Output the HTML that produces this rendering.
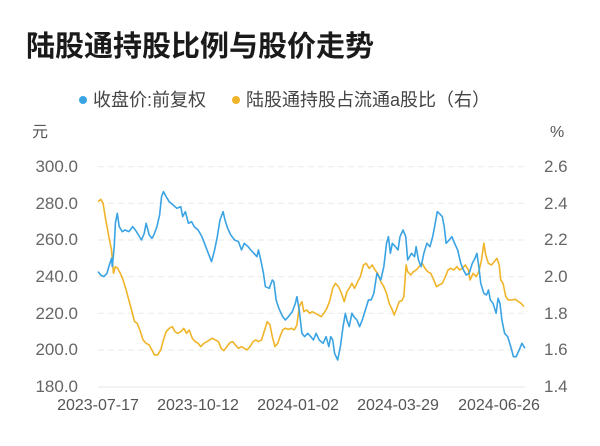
<!DOCTYPE html>
<html><head><meta charset="utf-8"><style>
body{margin:0;background:#fff;width:600px;height:446px;overflow:hidden;font-family:"Liberation Sans","Noto Sans CJK SC",sans-serif;}
</style></head><body>
<svg width="600" height="446" xmlns="http://www.w3.org/2000/svg" style="position:absolute;left:0;top:0">
<text x="26" y="56" font-size="29" font-weight="bold" fill="#1a1a1a" font-family="Liberation Sans,Noto Sans CJK SC,sans-serif">陆股通持股比例与股价走势</text>
<circle cx="83" cy="100" r="4" fill="#3aa3e3"/>
<text x="93" y="106" font-size="18" fill="#444" font-family="Liberation Sans,Noto Sans CJK SC,sans-serif">收盘价:前复权</text>
<circle cx="236" cy="100" r="4" fill="#f0b429"/>
<text x="246" y="106" font-size="18" fill="#444" font-family="Liberation Sans,Noto Sans CJK SC,sans-serif">陆股通持股占流通a股比（右）</text>
<text x="32" y="137" font-size="16" fill="#555" font-family="Liberation Sans,Noto Sans CJK SC,sans-serif">元</text>
<text x="550" y="137" font-size="16" fill="#555" font-family="Liberation Sans,Noto Sans CJK SC,sans-serif">%</text>
<g stroke="#eaeaea" stroke-width="1" stroke-dasharray="6,4">
<line x1="98" x2="525" y1="166.7" y2="166.7"/><line x1="98" x2="525" y1="203.3" y2="203.3"/><line x1="98" x2="525" y1="240" y2="240"/><line x1="98" x2="525" y1="276.7" y2="276.7"/><line x1="98" x2="525" y1="313.3" y2="313.3"/><line x1="98" x2="525" y1="350" y2="350"/>
</g>
<line x1="98" x2="525" y1="387" y2="387" stroke="#e6e6e6"/>
<g font-size="17" fill="#666" text-anchor="end" font-family="Liberation Sans,sans-serif">
<text x="78" y="172">300.0</text><text x="78" y="209">280.0</text><text x="78" y="245">260.0</text><text x="78" y="282">240.0</text><text x="78" y="319">220.0</text><text x="78" y="355">200.0</text><text x="78" y="392">180.0</text>
</g>
<g font-size="17" fill="#666" font-family="Liberation Sans,sans-serif">
<text x="544" y="172">2.6</text><text x="544" y="209">2.4</text><text x="544" y="245">2.2</text><text x="544" y="282">2.0</text><text x="544" y="319">1.8</text><text x="544" y="355">1.6</text><text x="544" y="392">1.4</text>
</g>
<g font-size="16" fill="#555" text-anchor="middle" font-family="Liberation Sans,sans-serif">
<text x="98" y="410">2023-07-17</text><text x="198" y="410">2023-10-12</text><text x="298" y="410">2024-01-02</text><text x="398" y="410">2024-03-29</text><text x="499" y="410">2024-06-26</text>
</g>
<g transform="translate(0,140) scale(0.3846,0.3333)" fill="none" stroke-width="1.6" stroke-linejoin="round">
<polyline vector-effect="non-scaling-stroke" stroke="#f0b429" points="255,185 262,178 268,190 275,240 283,290 290,330 295,400 300,380 306,385 313,400 320,420 328,450 335,480 342,510 350,545 357,550 365,575 372,600 380,610 388,615 395,630 402,645 410,645 418,630 425,600 432,575 440,565 448,560 455,575 462,580 470,575 478,565 485,580 492,570 500,595 508,605 515,610 522,620 530,610 538,605 545,600 552,595 560,600 568,605 575,625 582,632 590,620 598,608 605,605 612,615 620,625 628,620 635,625 642,630 650,620 658,605 665,600 672,605 680,600 688,570 695,545 702,555 708,590 715,620 722,610 728,590 735,570 742,565 750,568 758,565 765,570 772,555 778,500 785,485 790,515 798,510 805,520 812,515 820,520 828,525 835,530 842,520 850,505 858,480 865,445 872,430 880,440 888,460 895,485 902,455 908,445 915,430 922,445 930,425 937,410 945,375 952,370 960,385 968,375 975,390 982,400 990,425 998,440 1005,460 1012,490 1020,510 1025,525 1030,510 1038,485 1045,482 1050,470 1056,375 1060,395 1068,405 1075,395 1082,390 1090,380 1098,370 1105,385 1112,395 1120,400 1128,420 1135,440 1142,435 1150,430 1158,410 1165,390 1172,385 1180,390 1188,380 1195,390 1202,385 1210,375 1218,390 1222,420 1230,400 1238,410 1245,395 1252,360 1258,310 1263,345 1270,370 1278,375 1285,365 1292,355 1298,375 1302,420 1308,430 1315,470 1322,480 1330,480 1340,478 1348,485 1355,490 1362,500"/>
<polyline vector-effect="non-scaling-stroke" stroke="#3aa3e3" points="255,395 262,405 270,410 278,400 283,380 290,355 292,380 297,320 300,250 305,220 310,260 318,275 325,270 335,275 345,260 352,270 360,285 368,300 375,280 380,250 388,285 395,295 400,285 408,260 415,225 420,170 425,155 432,170 440,185 450,195 460,205 470,200 475,230 482,215 490,250 498,245 505,260 515,270 525,290 535,320 545,350 550,365 558,330 565,290 572,240 580,215 585,240 592,265 600,285 610,300 620,305 628,330 635,310 645,320 652,330 660,340 668,350 672,330 678,360 685,400 690,440 700,445 708,420 712,425 718,480 725,505 735,530 742,540 750,530 760,515 768,490 772,470 778,510 785,580 792,590 800,580 808,590 815,600 822,580 830,600 840,610 848,590 855,620 860,590 865,600 870,640 878,660 885,620 892,560 898,520 902,540 908,560 915,520 920,530 928,540 935,560 942,540 950,510 958,480 965,480 972,460 980,400 990,420 998,380 1005,310 1010,290 1015,340 1020,310 1028,320 1035,330 1040,290 1048,270 1055,290 1060,360 1065,350 1070,340 1078,350 1082,320 1088,360 1095,380 1102,340 1110,310 1118,320 1125,290 1130,260 1137,215 1142,220 1150,230 1155,260 1160,310 1168,300 1175,290 1182,310 1190,330 1198,370 1205,390 1212,405 1220,400 1228,370 1235,355 1240,340 1245,380 1250,430 1258,460 1265,465 1270,450 1275,480 1282,490 1290,520 1295,475 1300,490 1305,540 1312,580 1320,590 1328,620 1335,650 1342,650 1350,630 1357,610 1365,625"/>
</g>
</svg>
</body></html>
